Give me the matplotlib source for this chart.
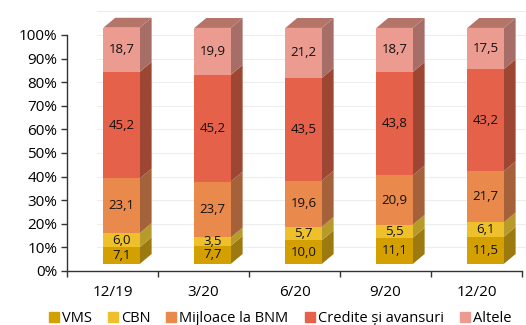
import numpy as np
import matplotlib.pyplot as plt
from matplotlib.patches import Polygon
from matplotlib.lines import Line2D

periods = ['12/19', '3/20', '6/20', '9/20', '12/20']
series = ['VMS', 'CBN', 'Mijloace la BNM', 'Credite și avansuri', 'Altele']
vms = [7.1, 7.7, 10.0, 11.1, 11.5]
cbn = [6.0, 3.5, 5.7, 5.5, 6.1]
mijloace = [23.1, 23.7, 19.6, 20.9, 21.7]
credite = [45.2, 45.2, 43.5, 43.8, 43.2]
altele = [18.7, 19.9, 21.2, 18.7, 17.5]

front = ['#d4a000', '#eec12c', '#e98a4c', '#e5614a', '#eb9b90']
side = ['#9c7a10', '#b89a2a', '#a5623a', '#9e4634', '#a66e66']
top_col = '#b47468'

plt.rcParams['font.family'] = ['Open Sans', 'DejaVu Sans']

fig = plt.figure(figsize=(5.26, 3.25), dpi=100)
ax = fig.add_axes([67 / 526, 54 / 325, 455 / 526, 236 / 325])

x = np.arange(len(periods))
width = 0.4
shift = 0.1      # front face offset to the right
lift = 3.0       # front face offset upward
dx, dy = 0.13, 4.2

# back wall gridlines
for g in range(10, 111, 10):
    ax.plot([-0.17, 4.62], [g, g], color='#ededed', lw=0.8, zorder=0, clip_on=False)

bottoms = np.zeros(len(periods))
for vals, fc, sc in zip([vms, cbn, mijloace, credite, altele], front, side):
    vals = np.array(vals)
    ax.bar(x + shift, vals, width=width, bottom=bottoms + lift, color=fc,
           zorder=3, clip_on=False)
    for xi, b, v in zip(x, bottoms, vals):
        xr = xi + shift + width / 2
        b0 = b + lift
        t0 = b + v + lift
        ax.add_patch(Polygon([(xr, b0), (xr + dx, b0 + dy), (xr + dx, t0 + dy), (xr, t0)],
                             closed=True, facecolor=sc, edgecolor='none', zorder=2, clip_on=False))
        ax.text(xi + shift, b0 + v / 2, f'{v:.1f}'.replace('.', ','), ha='center', va='center',
                fontsize=9.5, color='#111111', zorder=5)
    bottoms = bottoms + vals

# top faces
for xi, t in zip(x, bottoms):
    xl = xi + shift - width / 2
    xr = xi + shift + width / 2
    t0 = t + lift
    ax.add_patch(Polygon([(xl, t0), (xl + dx, t0 + dy), (xr + dx, t0 + dy), (xr, t0)],
                         closed=True, facecolor=top_col, edgecolor='none', zorder=2, clip_on=False))

ax.set_xlim(-0.5, 4.5)
ax.set_ylim(0, 100)
ax.set_yticks(range(0, 101, 10))
ax.set_yticklabels([f'{t}%' for t in range(0, 101, 10)], fontsize=11)
ax.set_xticks(np.arange(-0.5, 4.6, 1.0))
ax.set_xticklabels([])
ax.set_xticks(x, minor=True)
ax.set_xticklabels(periods, minor=True, fontsize=11)
ax.tick_params(axis='x', which='minor', length=0, pad=10)
ax.tick_params(axis='x', which='major', length=4, width=1, color='#333333', direction='out')
ax.tick_params(axis='y', length=4, width=1, color='#333333', pad=3)

for s in ['top', 'right']:
    ax.spines[s].set_visible(False)
for s in ['left', 'bottom']:
    ax.spines[s].set_color('#333333')
    ax.spines[s].set_linewidth(1)
ax.patch.set_alpha(0)

handles = [Line2D([], [], marker='s', linestyle='none', markersize=7.5, markerfacecolor=c,
                  markeredgecolor=c) for c in front]
fig.legend(handles, series, loc='lower center', bbox_to_anchor=(0.53, -0.045), ncol=5,
           frameon=False, fontsize=10.5, handletextpad=0.05, columnspacing=0.95, handlelength=1.0)

fig.savefig('out.png', dpi=100)
